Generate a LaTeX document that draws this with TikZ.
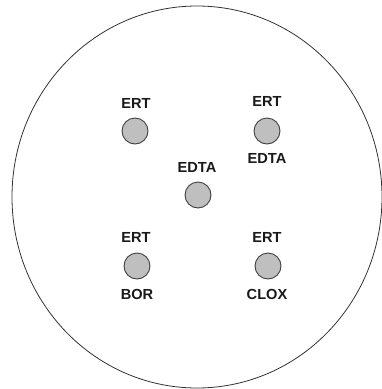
\documentclass[tikz,border=0pt]{standalone}
\usepackage{fontspec}
\setmainfont{Liberation Sans}
\begin{document}
\begin{tikzpicture}[x=1pt,y=-1pt,
  well/.style={circle,draw=black!75,fill=black!25,line width=0.9pt,minimum size=26pt,inner sep=0pt},
  lab/.style={font=\fontsize{14.6}{16}\selectfont\bfseries,text=black!90,inner sep=0pt,anchor=center}]
\useasboundingbox (0,0) rectangle (381,389);
\draw[line width=0.8pt,black!80] (197,197) ellipse [x radius=185, y radius=191];
\node[well] (w1) at (135,131) {};
\node[well] (w2) at (267,131) {};
\node[well] (w3) at (198,195) {};
\node[well] (w4) at (137,266) {};
\node[well] (w5) at (268,266) {};
\node[lab] (l1) at (136,103) {ERT};
\node[lab] (l2) at (267,101) {ERT};
\node[lab] (l2b) at (267,158) {EDTA};
\node[lab] (l3) at (197,167) {EDTA};
\node[lab] (l4) at (136,237) {ERT};
\node[lab] (l5) at (267,237) {ERT};
\node[lab] (l4b) at (137,294) {BOR};
\node[lab] (l5b) at (267,294) {CLOX};
\end{tikzpicture}
\end{document}
